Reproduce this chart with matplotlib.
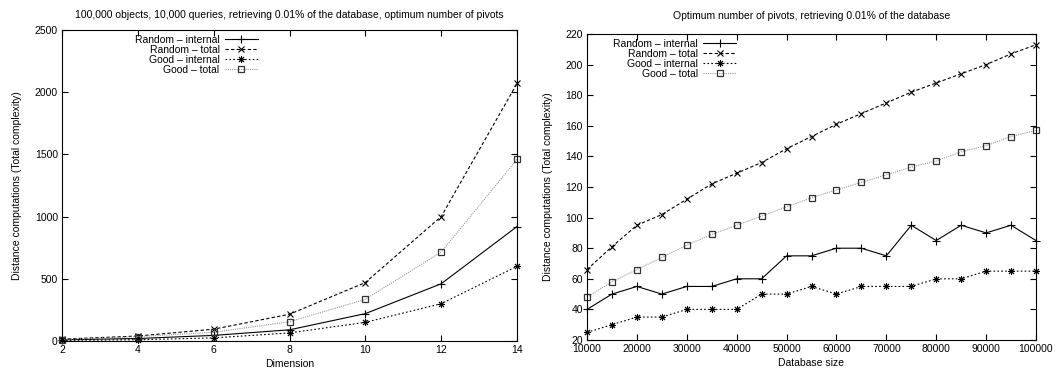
import matplotlib
matplotlib.use("Agg")
import matplotlib.pyplot as plt

plt.rcParams['font.family'] = ['Liberation Sans', 'DejaVu Sans']
plt.rcParams['font.size'] = 7.5

# left chart: complexity vs dimension
dims = [2, 4, 6, 8, 10, 12, 14]
dim_rand_int = [10, 20, 45, 90, 220, 460, 920]
dim_rand_tot = [15, 40, 95, 215, 470, 1000, 2070]
dim_good_int = [5, 10, 25, 65, 150, 300, 600]
dim_good_tot = [12, 35, 70, 155, 335, 715, 1460]

# right chart: complexity vs database size
sizes = list(range(10000, 100001, 5000))
size_rand_int = [40, 50, 55, 50, 55, 55, 60, 60, 75, 75, 80, 80, 75, 95, 85, 95, 90, 95, 85]
size_rand_tot = [66, 81, 95, 102, 112, 122, 129, 136, 145, 153, 161, 168, 175, 182, 188, 194, 200, 207, 213]
size_good_int = [25, 30, 35, 35, 40, 40, 40, 50, 50, 55, 50, 55, 55, 55, 60, 60, 65, 65, 65]
size_good_tot = [48, 58, 66, 74, 82, 89, 95, 101, 107, 113, 118, 123, 128, 133, 137, 143, 147, 153, 157]

labels = ["Random – internal", "Random – total", "Good – internal", "Good – total"]
styles = [
    dict(color='black', ls='-', marker='+', ms=6, mew=0.8),
    dict(color='black', ls=(0, (3, 2)), marker='x', ms=4.5, mew=0.8),
    dict(color='black', ls=(0, (1.5, 2)), marker=(8, 2, 0), ms=5, mew=0.7),
    dict(color='#999999', ls=(0, (1, 1)), marker='s', ms=4.5, mew=0.9,
         mfc='none', mec='#333333'),
]

W, H = 1063, 372
fig = plt.figure(figsize=(W / 100, H / 100), dpi=100)
ax1 = fig.add_axes([62 / W, (H - 341) / H, (517 - 62) / W, (341 - 30) / H])
ax2 = fig.add_axes([587 / W, (H - 340) / H, (1036 - 587) / W, (340 - 34) / H])


def draw(ax, x, series, xlim, ylim, xticks, yticks, title, xlabel, anchor, tpad):
    for ys, lab, st in zip(series, labels, styles):
        ax.plot(x, ys, lw=0.8, label=lab, clip_on=False, **st)
    ax.set_xlim(*xlim)
    ax.set_ylim(*ylim)
    ax.set_xticks(xticks)
    ax.set_yticks(yticks)
    ax.tick_params(direction='in', top=True, right=True, length=4, width=0.8, pad=3)
    for s in ax.spines.values():
        s.set_linewidth(0.8)
    ax.set_title(title, fontsize=7.5, pad=tpad)
    ax.set_xlabel(xlabel, labelpad=3)
    ax.set_ylabel("Distance computations (Total complexity)", labelpad=9)
    leg = ax.legend(loc='upper left', bbox_to_anchor=anchor, frameon=False,
                    markerfirst=False, handlelength=3.2, handletextpad=0.5,
                    labelspacing=0.0, borderpad=0, borderaxespad=0)
    # right-align rows like gnuplot keys
    for col in leg._legend_handle_box.get_children():
        col.align = 'right'


draw(ax1, dims, [dim_rand_int, dim_rand_tot, dim_good_int, dim_good_tot],
     (2, 14), (0, 2500), dims, range(0, 2501, 500),
     "100,000 objects, 10,000 queries, retrieving 0.01% of the database, optimum number of pivots",
     "Dimension", (0.16, 0.985), 9)

draw(ax2, sizes, [size_rand_int, size_rand_tot, size_good_int, size_good_tot],
     (10000, 100000), (20, 220), range(10000, 100001, 10000), range(20, 221, 20),
     "Optimum number of pivots, retrieving 0.01% of the database",
     "Database size", (0.058, 0.985), 11)

fig.savefig("out.png", dpi=100)
